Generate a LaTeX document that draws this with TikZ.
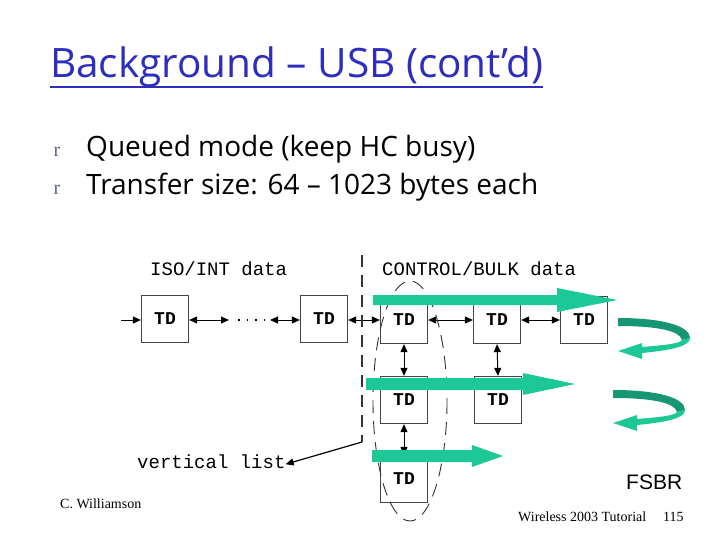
\documentclass[tikz,border=0pt]{standalone}
\usepackage{fontspec}
\setmainfont{Liberation Serif}
\newfontfamily\slidefont{Open Sans}
\newfontfamily\codefont{Liberation Mono}
\newfontfamily\labelfont{Liberation Sans}
\usetikzlibrary{positioning,arrows.meta,calc}
\definecolor{titleblue}{RGB}{45,45,190}
\definecolor{bulletgray}{RGB}{95,105,135}
\definecolor{flowgreen}{RGB}{28,200,150}
\definecolor{flowdark}{RGB}{22,150,115}
\definecolor{tdborder}{RGB}{70,70,70}

\tikzset{
  curl/.pic={
    \fill[flowdark] (0,0) .. controls (45,0) and (72,8) .. (72,20) -- (64,22) .. controls (62,13) and (40,8) .. (0,8) -- cycle;
    \fill[flowgreen] (72,20) .. controls (72,28) and (55,32) .. (24,35) -- (24,41) -- (0,33) -- (24,25) -- (24,29) .. controls (50,27) and (63,25) .. (64,22) -- cycle;
  }
}

\begin{document}
\begin{tikzpicture}[
                x=1pt, y=-1pt,
                >={Triangle[length=8pt, width=7pt]},
                tdbox/.style={draw=tdborder, line width=1.3pt, fill=white, minimum width=47pt, minimum height=47pt, inner sep=0pt, font=\codefont\bfseries\fontsize{18}{18}\selectfont},
                mono/.style={anchor=base west, inner sep=0pt, font=\codefont\fontsize{19}{19}\selectfont},
                item/.style={anchor=base west, inner sep=0pt, font=\slidefont\fontsize{28}{28}\selectfont},
                bulletmark/.style={anchor=base, inner sep=0pt, text=bulletgray, font=\fontsize{20}{20}\selectfont},
                footer/.style={anchor=base west, inner sep=0pt, font=\fontsize{14}{14}\selectfont},
                link/.style={<->, line width=1pt},
                lead/.style={->, line width=1pt}
                ]
                \useasboundingbox[fill=white] (0,0) rectangle (720,540);

                % title and bullets
                \node[anchor=base west, inner sep=0pt, text=titleblue, font=\slidefont\fontsize{40.5}{40.5}\selectfont] (title) at (50,78) {Background – USB (cont’d)};
                \draw[titleblue, line width=1.6pt] ([yshift=-9pt]title.base west) -- ([yshift=-9pt]title.base east);
                \node[bulletmark] (b1) at (57,157) {r};
                \node[bulletmark] (b2) at (57,195) {r};
                \node[item] (queued) at (86,157) {Queued mode (keep HC busy)};
                \node[item] (size) at (86,195) {Transfer size: 64 – 1023 bytes each};

                % labels
                \node[mono] (isolbl) at (150,275) {ISO/INT data};
                \node[mono] (ctrllbl) at (382,275) {CONTROL/BULK data};
                \node[mono] (vlist) at (137,468) {vertical list};

                % transfer descriptors
                \node[tdbox] (box1) at (165,319) {TD};
                \node[tdbox] (box2) at (324,319) {TD};
                \node[tdbox] (box3) at (404,320) {TD};
                \node[tdbox] (box4) at (497,320) {TD};
                \node[tdbox] (box5) at (584,320) {TD};
                \node[tdbox] (box6) at (404,400) {TD};
                \node[tdbox] (box7) at (498,400) {TD};
                \node[tdbox] (box8) at (404,479) {TD};

                \coordinate (start) at (121,320);
                \coordinate (gapL) at (229,320);
                \coordinate (gapR) at (270,320);
                \coordinate (vtop) at (362,255);
                \coordinate (vend) at (362,442);

                \draw[lead] (start) -- (box1.west |- start);
                \draw[link] (box1.east |- gapL) -- (gapL);
                \draw[line width=1.5pt, dash pattern=on 1.5pt off 7pt, shorten <=9pt, shorten >=3pt] (gapL) -- (gapR);
                \draw[link] (gapR) -- (box2.west |- gapR);
                \draw[link] (box2.east |- gapR) -- (box3.west |- gapR);
                \draw[link] (box3.east |- gapR) -- (box4.west |- gapR);
                \draw[link] (box4.east |- gapR) -- (box5.west |- gapR);
                \draw[link] (box3.south) -- (box6.north);
                \draw[link] (box4.south) -- (box7.north);
                \draw[link] (box6.south) -- (box8.north);

                % split between the two lists
                \draw[black!80, line width=2pt, dash pattern=on 12pt off 8pt] (vtop) -- (vend);
                \draw[lead, line width=1.2pt] (vend) -- ([yshift=-3pt]vlist.east);
                \draw[black!80, line width=0.9pt, dash pattern=on 13pt off 8pt] (410,401) ellipse [x radius=37, y radius=120];

                % FSBR flow
                \fill[flowgreen] (373,295) -- (557,295) -- (557,288) -- (617,300) -- (557,312) -- (557,305) -- (373,305) -- cycle;
                \fill[flowgreen] (366,378) -- (523,378) -- (523,373) -- (575,384) -- (523,395) -- (523,390) -- (366,390) -- cycle;
                \fill[flowgreen] (372,450) -- (472,450) -- (472,445) -- (503,456) -- (472,467) -- (472,462) -- (372,462) -- cycle;
                \pic at (618,318) {curl};
                \pic at (613,390) {curl};
                \node[anchor=base west, inner sep=0pt, font=\labelfont\fontsize{21}{21}\selectfont] (fsbr) at (626,489) {FSBR};

                % footer
                \node[footer] (author) at (60,508) {C. Williamson};
                \node[footer] (event) at (518,521) {Wireless 2003 Tutorial};
                \node[footer] (page) at (663,521) {115};
\end{tikzpicture}
\end{document}
